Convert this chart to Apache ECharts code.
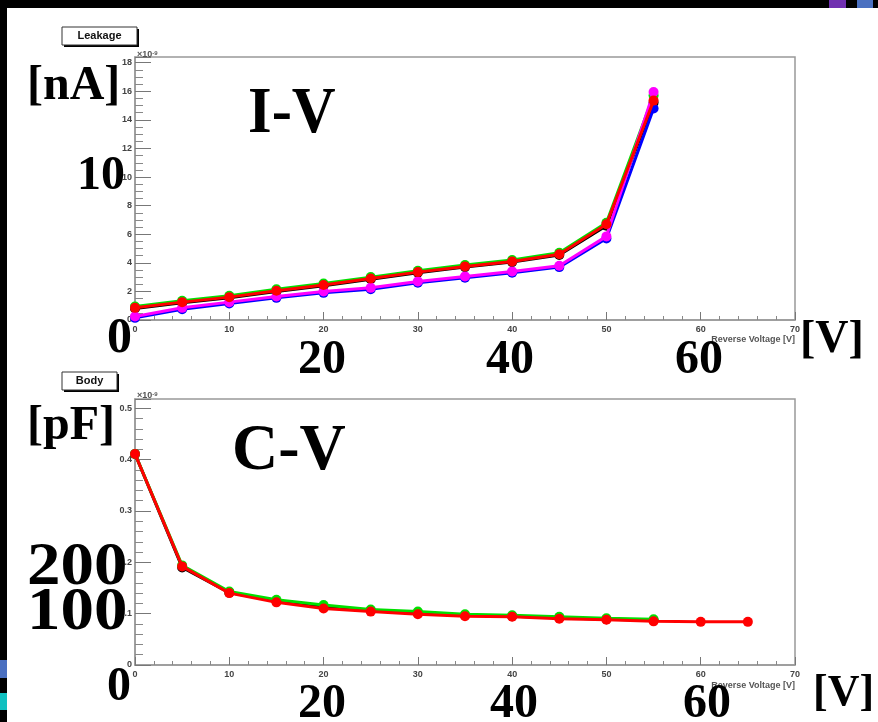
<!DOCTYPE html>
<html>
<head>
<meta charset="utf-8">
<style>
html, body {
  margin: 0;
  padding: 0;
  background: #fff;
}
#chart_example {
  width: 878px;
  height: 722px;
}
</style>
<script src="https://cdn.jsdelivr.net/npm/echarts@6/dist/echarts.min.js"></script>
</head>
<body>
<div id="chart_example"></div>
<script>
// reverse voltage steps [V]
let voltIV = [0, 5, 10, 15, 20, 25, 30, 35, 40, 45, 50, 55];
let voltCV = [0, 5, 10, 15, 20, 25, 30, 35, 40, 45, 50, 55, 60, 65];

// leakage current (x10^-9 A)
let ivBlack = [0.8, 1.2, 1.55, 2.0, 2.4, 2.85, 3.3, 3.7, 4.05, 4.55, 6.6, 15.2];
let ivGreen = [0.95, 1.35, 1.7, 2.15, 2.55, 3.0, 3.45, 3.85, 4.2, 4.7, 6.8, 15.7];
let ivRed = [0.85, 1.25, 1.6, 2.05, 2.45, 2.9, 3.35, 3.75, 4.1, 4.6, 6.7, 15.35];
let ivBlue = [0.15, 0.75, 1.15, 1.55, 1.9, 2.15, 2.6, 2.95, 3.3, 3.7, 5.7, 14.8];
let ivMagenta = [0.25, 0.85, 1.25, 1.65, 2.0, 2.25, 2.7, 3.05, 3.4, 3.8, 5.85, 15.95];

// body capacitance (x10^-9 F)
let cvBlack = [0.411, 0.19, 0.141, 0.124, 0.113, 0.106, 0.101, 0.097, 0.095, 0.092, 0.089, 0.087];
let cvGreen = [0.411, 0.194, 0.143, 0.127, 0.117, 0.108, 0.104, 0.099, 0.097, 0.094, 0.091, 0.089];
let cvRed = [0.411, 0.192, 0.14, 0.122, 0.11, 0.104, 0.099, 0.095, 0.094, 0.09, 0.088, 0.085, 0.084, 0.084];

function pairs(xs, ys) {
  return ys.map((y, i) => [xs[i], y]);
}

function line(name, xi, xs, ys, color, z) {
  return {
    name: name,
    type: "line",
    xAxisIndex: xi,
    yAxisIndex: xi,
    data: pairs(xs, ys),
    symbol: "circle",
    symbolSize: 10,
    z: z,
    lineStyle: { color: color, width: 3 },
    itemStyle: { color: color },
    animation: false
  };
}

let tickLabel = {
  fontFamily: "Liberation Sans",
  fontWeight: "bold",
  fontSize: 9,
  color: "#444"
};

function xAxisCfg(gi) {
  return {
    gridIndex: gi,
    type: "value",
    min: 0,
    max: 70,
    interval: 10,
    axisLine: { lineStyle: { color: "#999", width: 1.5 } },
    axisTick: { inside: true, length: 8, lineStyle: { color: "#777" } },
    minorTick: { show: true, splitNumber: 5, length: 4, lineStyle: { color: "#888" } },
    axisLabel: Object.assign({ margin: 5 }, tickLabel),
    splitLine: { show: false }
  };
}

function yAxisCfg(gi, max, interval, split) {
  return {
    gridIndex: gi,
    type: "value",
    min: 0,
    max: max,
    interval: interval,
    axisLine: { lineStyle: { color: "#999", width: 1.5 } },
    axisTick: { inside: true, length: 16, lineStyle: { color: "#777" } },
    minorTick: { show: true, splitNumber: split, length: 8, lineStyle: { color: "#888" } },
    axisLabel: Object.assign({ margin: 3, showMaxLabel: false }, tickLabel),
    splitLine: { show: false }
  };
}

// big serif labels written over the slide; sx stretches the glyphs sideways
function bigText(str, x, y, size, sx) {
  return {
    type: "text",
    z: 100,
    x: x,
    y: y,
    scaleX: sx || 1,
    style: {
      text: str,
      x: 0,
      y: 0,
      font: "bold " + size + "px 'Liberation Serif'",
      fill: "#000",
      textAlign: "left",
      textVerticalAlign: "middle"
    }
  };
}

function boxLabel(str, x, y, w, h) {
  return [
    { type: "rect", z: 20, shape: { x: x + 2, y: y + 2, width: w, height: h }, style: { fill: "#000" } },
    { type: "rect", z: 21, shape: { x: x, y: y, width: w, height: h }, style: { fill: "#fff", stroke: "#333", lineWidth: 1 } },
    {
      type: "text", z: 22,
      style: { text: str, x: x + w / 2, y: y + h / 2, font: "bold 11px 'Liberation Sans'", fill: "#111", textAlign: "center", textVerticalAlign: "middle" }
    }
  ];
}

function expoText(x, y) {
  return {
    type: "text", z: 30,
    style: {
      text: "{b|×10}{s|-9}",
      x: x, y: y,
      rich: {
        b: { fontFamily: "Liberation Sans", fontWeight: "bold", fontSize: 9, fill: "#555" },
        s: { fontFamily: "Liberation Sans", fontWeight: "bold", fontSize: 6, fill: "#555", verticalAlign: "top" }
      }
    }
  };
}

function axisTitle(x, y) {
  return {
    type: "text", z: 30,
    style: { text: "Reverse Voltage [V]", x: x, y: y, font: "bold 9px 'Liberation Sans'", fill: "#555", textAlign: "right", textVerticalAlign: "middle" }
  };
}

let graphics = [
  // slide frame
  { type: "rect", z: 50, shape: { x: 0, y: 0, width: 878, height: 8 }, style: { fill: "#000" } },
  { type: "rect", z: 50, shape: { x: 0, y: 0, width: 7, height: 722 }, style: { fill: "#000" } },
  { type: "rect", z: 51, shape: { x: 829, y: 0, width: 17, height: 8 }, style: { fill: "#7030b0" } },
  { type: "rect", z: 51, shape: { x: 857, y: 0, width: 16, height: 8 }, style: { fill: "#4a70c0" } },
  { type: "rect", z: 51, shape: { x: 0, y: 660, width: 7, height: 18 }, style: { fill: "#4a6fc0" } },
  { type: "rect", z: 51, shape: { x: 0, y: 693, width: 7, height: 17 }, style: { fill: "#10c0c0" } },
  expoText(137, 50),
  expoText(137, 391),
  axisTitle(795, 340),
  axisTitle(795, 686),
  // hand-added annotations (top)
  bigText("[nA]", 27, 87, 48),
  bigText("I-V", 248, 115, 66, 0.92),
  bigText("10", 77, 177, 48),
  bigText("0", 107, 339, 50),
  bigText("20", 298, 361, 48),
  bigText("40", 486, 361, 48),
  bigText("60", 675, 361, 48),
  bigText("[V]", 800, 340, 46),
  // hand-added annotations (bottom)
  bigText("[pF]", 27, 427, 48),
  bigText("C-V", 232, 452, 66, 0.97),
  bigText("200", 27, 568, 62, 1.08),
  bigText("100", 27, 613, 62, 1.08),
  bigText("0", 107, 688, 48),
  bigText("20", 298, 705, 48),
  bigText("40", 490, 705, 48),
  bigText("60", 683, 705, 48),
  bigText("[V]", 813, 694, 44)
].concat(boxLabel("Leakage", 62, 27, 75, 18), boxLabel("Body", 62, 372, 55, 18));

let option = {
  backgroundColor: "#fff",
  animation: false,
  grid: [
    { left: 135, top: 57, width: 660, height: 263, show: true, borderColor: "#999", borderWidth: 1.5, backgroundColor: "#fff" },
    { left: 135, top: 399, width: 660, height: 266, show: true, borderColor: "#999", borderWidth: 1.5, backgroundColor: "#fff" }
  ],
  xAxis: [xAxisCfg(0), xAxisCfg(1)],
  yAxis: [yAxisCfg(0, 18.4, 2, 4), yAxisCfg(1, 0.518, 0.1, 5)],
  series: [
    line("black", 0, voltIV, ivBlack, "#000000", 2),
    line("blue", 0, voltIV, ivBlue, "#0000ff", 3),
    line("green", 0, voltIV, ivGreen, "#00e000", 4),
    line("magenta", 0, voltIV, ivMagenta, "#ff00ff", 5),
    line("red", 0, voltIV, ivRed, "#ff0000", 6),
    line("black", 1, voltCV, cvBlack, "#000000", 2),
    line("green", 1, voltCV, cvGreen, "#00e000", 3),
    line("red", 1, voltCV, cvRed, "#ff0000", 4)
  ],
  graphic: graphics
};

let myChart = echarts.init(document.getElementById("chart_example"));
myChart.setOption(option);
window.addEventListener("resize", function() {
  myChart.resize();
});
</script>
</body>
</html>
